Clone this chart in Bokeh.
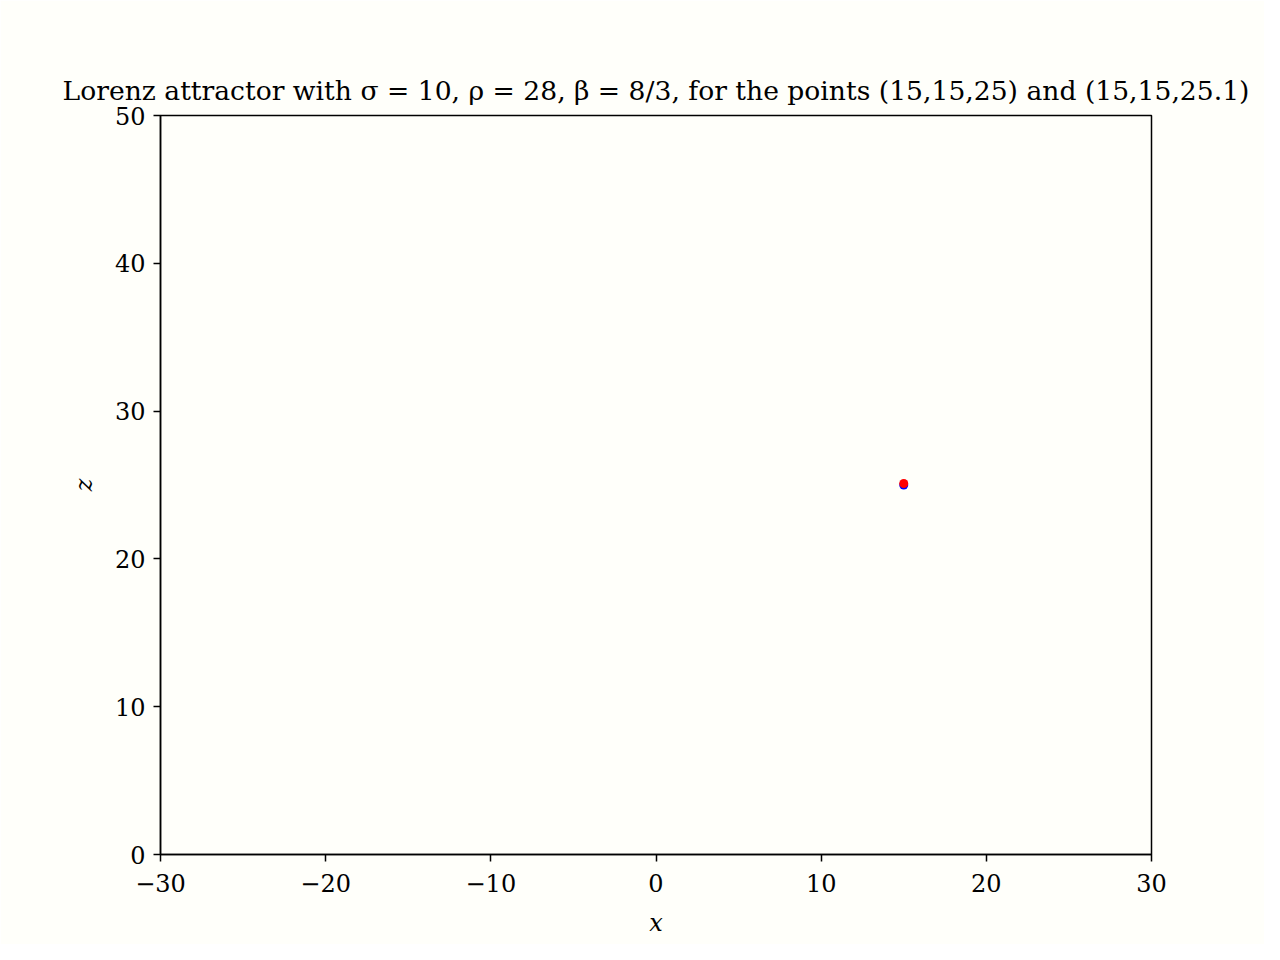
from bokeh.plotting import figure
from bokeh.models import FixedTicker, Range1d
from bokeh.embed import file_html
from bokeh.resources import INLINE

# data: starting points projected on the x–z plane
labels = ["(15,15,25)", "(15,15,25.1)"]
xs = [15, 15]
zs = [25, 25.1]
colors = ["#0000ff", "#ff0000"]

x_ticks = [-30, -20, -10, 0, 10, 20, 30]
z_ticks = [0, 10, 20, 30, 40, 50]

FONT = "DejaVu Serif"
BG = "#fffffa"

p = figure(width=1264, height=944, output_backend="svg", toolbar_location=None,
           x_range=Range1d(-30, 30), y_range=Range1d(0, 50),
           min_border_left=160, min_border_right=113, min_border_top=115, min_border_bottom=90,
           title="Lorenz attractor with \u03c3 = 10, \u03c1 = 28, \u03b2 = 8/3, for the points (15,15,25) and (15,15,25.1)")

p.background_fill_color = BG
p.border_fill_color = BG
p.outline_line_color = "black"
p.outline_line_width = 1.5
p.grid.visible = False

p.title.align = "center"
p.title.text_font = FONT
p.title.text_font_size = "26.6px"
p.title.text_font_style = "normal"
p.title.text_color = "black"
p.title.standoff = 19

p.xaxis.ticker = FixedTicker(ticks=x_ticks)
p.yaxis.ticker = FixedTicker(ticks=z_ticks)
p.xaxis.major_label_overrides = {t: (str(t).replace("-", "\u2212")) for t in x_ticks}
p.yaxis.major_label_overrides = {t: str(t) for t in z_ticks}
p.xaxis.axis_label = "x"
p.yaxis.axis_label = "z"

for ax in (p.xaxis, p.yaxis):
    ax.axis_line_color = "black"
    ax.axis_line_width = 1.5
    ax.major_tick_line_color = "black"
    ax.major_tick_line_width = 1.5
    ax.major_tick_in = 0
    ax.major_tick_out = 7
    ax.minor_tick_line_color = None
    ax.major_label_text_font = FONT
    ax.major_label_text_font_size = "24px"
    ax.major_label_text_color = "black"
    ax.axis_label_text_font = FONT
    ax.axis_label_text_font_size = "24px"
    ax.axis_label_text_font_style = "italic"
    ax.axis_label_text_color = "black"

p.xaxis.major_label_standoff = 12
p.yaxis.major_label_standoff = 8
p.xaxis.axis_label_standoff = 14
p.yaxis.axis_label_standoff = 14

# blue first, red drawn on top
p.scatter(xs, zs, size=9, color=colors, line_color=None)

open("out.html", "w").write(file_html(p, INLINE))
